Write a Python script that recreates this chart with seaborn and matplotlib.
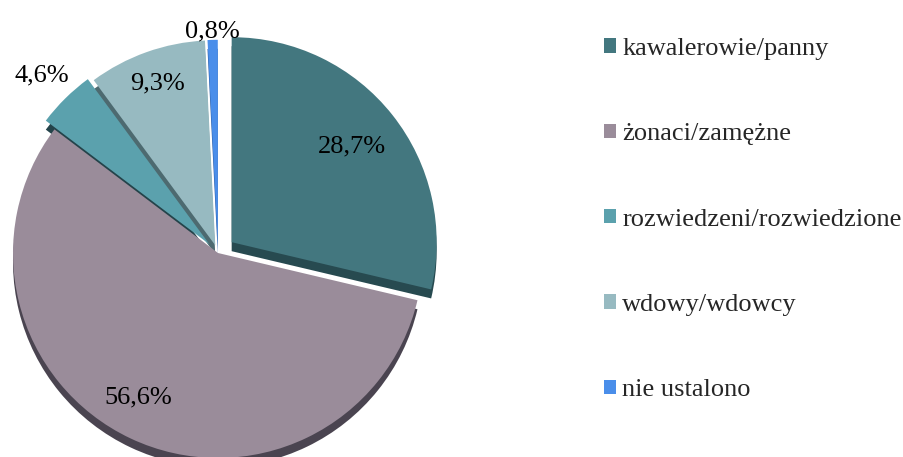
import numpy as np
import matplotlib
matplotlib.use("Agg")
import matplotlib.pyplot as plt
import seaborn as sns
from matplotlib.patches import Patch

# marital status shares (%)
categories = ["kawalerowie/panny", "żonaci/zamężne", "rozwiedzeni/rozwiedzione",
              "wdowy/wdowcy", "nie ustalono"]
shares = [28.7, 56.6, 4.6, 9.3, 0.8]
labels = ["28,7%", "56,6%", "4,6%", "9,3%", "0,8%"]

colors = ["#43777F", "#9A8C9A", "#5BA1AD", "#97BAC1", "#4A8EEA"]
side_colors = ["#274A50", "#4A4450", "#24434A", "#4D6A70", "#2A5AA0"]
explode_frac = [0.085, 0.0, 0.06, 0.04, 0.04]
label_dist = [0.75, 0.78, 1.16, 0.84, 1.04]

sns.set_theme(style="white")
plt.rcParams["font.family"] = ["Liberation Serif", "DejaVu Serif"]

fig = plt.figure(figsize=(9.04, 4.57), dpi=100)
ax = fig.add_axes([0, 0, 1, 1])

cx, cy, r = 218, 457 - 253, 205
depth = 9
explode = [e * r for e in explode_frac]  # pie explode is in data units

# "3D" side of the pie
ax.pie(shares, colors=side_colors, explode=explode, startangle=90,
       counterclock=False, center=(cx, cy - depth), radius=r,
       wedgeprops=dict(linewidth=0), frame=True)
wedges, _ = ax.pie(shares, colors=colors, explode=explode, startangle=90,
                   counterclock=False, center=(cx, cy), radius=r,
                   wedgeprops=dict(linewidth=0), frame=True)
ax.set_xlim(0, 904)
ax.set_ylim(0, 457)
ax.set_aspect("equal")
ax.axis("off")

for w, lab, f, ex in zip(wedges, labels, label_dist, explode_frac):
    mid = np.deg2rad((w.theta1 + w.theta2) / 2)
    d = r * (f + ex)
    ax.text(cx + d * np.cos(mid) - (12 if lab == "56,6%" else 0),
            cy + d * np.sin(mid), lab,
            ha="center", va="center", fontsize=19, color="black")

handles = [Patch(facecolor=c, edgecolor="none") for c in colors]
fig.legend(handles, categories, loc="upper left", bbox_to_anchor=(0.668, 0.917),
           frameon=False, fontsize=19, handlelength=0.45, handleheight=0.45,
           handletextpad=0.25, labelspacing=2.4, borderaxespad=0, borderpad=0)

fig.savefig("out.png", dpi=100)
